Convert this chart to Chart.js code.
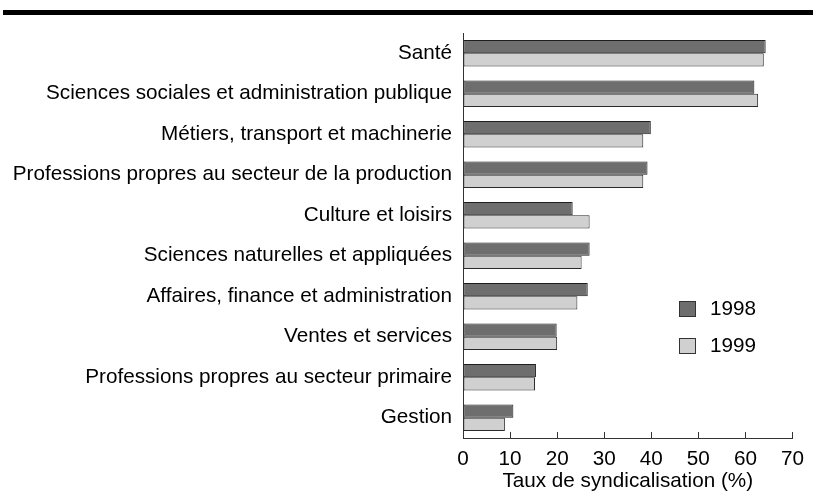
<!DOCTYPE html>
<html>
<head>
<meta charset="utf-8">
<script src="https://cdn.jsdelivr.net/npm/chart.js@4.4.1/dist/chart.umd.min.js"></script>
<style>
  html, body { margin: 0; padding: 0; background: #ffffff; }
  #wrap { position: relative; width: 813px; height: 500px; }
</style>
</head>
<body>
<div id="wrap"><canvas id="c" width="813" height="500"></canvas></div>
<script>
const categories = [
  "Santé",
  "Sciences sociales et administration publique",
  "Métiers, transport et machinerie",
  "Professions propres au secteur de la production",
  "Culture et loisirs",
  "Sciences naturelles et appliquées",
  "Affaires, finance et administration",
  "Ventes et services",
  "Professions propres au secteur primaire",
  "Gestion"
];
const values1998 = [64.3, 61.9, 39.9, 39.2, 23.3, 26.9, 26.5, 19.9, 15.5, 10.7];
const values1999 = [63.9, 62.7, 38.3, 38.3, 26.9, 25.2, 24.3, 20.0, 15.3, 8.9];
const seriesLabels = ["1998", "1999"];
const xTicks = [0, 10, 20, 30, 40, 50, 60, 70];
const axisTitle = "Taux de syndicalisation (%)";

const FONT = "'Liberation Sans', Arial, sans-serif";
const FSIZE = 20.7;

const decorPlugin = {
  id: 'decor',
  beforeDraw(chart) {
    const ctx = chart.ctx;
    ctx.save();
    ctx.fillStyle = '#ffffff';
    ctx.fillRect(0, 0, chart.width, chart.height);
    ctx.fillStyle = '#000000';
    ctx.fillRect(3, 10, 810, 5);
    ctx.restore();
  },
  afterDraw(chart) {
    const ctx = chart.ctx;
    const xs = chart.scales.x;
    const area = chart.chartArea;
    ctx.save();
    ctx.strokeStyle = '#333333';
    ctx.lineWidth = 1;
    xs.ticks.forEach(t => {
      if (t.value === 0) return;
      const px = Math.round(xs.getPixelForValue(t.value)) + 0.5;
      ctx.beginPath();
      ctx.moveTo(px, area.bottom);
      ctx.lineTo(px, area.bottom - 6);
      ctx.stroke();
    });
    const lx = 679, ly = [301, 338];
    ctx.font = FSIZE + 'px ' + FONT;
    ctx.textBaseline = 'middle';
    ctx.textAlign = 'left';
    chart.data.datasets.forEach((ds, i) => {
      ctx.fillStyle = ds.backgroundColor;
      ctx.fillRect(lx, ly[i], 17, 16);
      ctx.strokeStyle = '#333333';
      ctx.strokeRect(lx + 0.5, ly[i] + 0.5, 16, 15);
      ctx.fillStyle = '#000000';
      ctx.fillText(ds.label, 710, ly[i] + 8);
    });
    ctx.restore();
  }
};

new Chart(document.getElementById('c'), {
  type: 'bar',
  data: {
    labels: categories,
    datasets: [
      { label: seriesLabels[0], data: values1998, backgroundColor: '#6e6e6e', borderColor: '#1e1e1e', borderWidth: 1, borderSkipped: false },
      { label: seriesLabels[1], data: values1999, backgroundColor: '#d0d0d0', borderColor: '#2a2a2a', borderWidth: 1, borderSkipped: false }
    ]
  },
  options: {
    indexAxis: 'y',
    responsive: false,
    animation: false,
    devicePixelRatio: 1,
    layout: { padding: { top: 33, right: 20, left: 0, bottom: 6 } },
    datasets: { bar: { categoryPercentage: 0.66, barPercentage: 1.0 } },
    plugins: {
      legend: { display: false },
      tooltip: { enabled: false }
    },
    scales: {
      x: {
        min: 0, max: 70,
        afterBuildTicks(scale) { scale.ticks = xTicks.map(v => ({ value: v })); },
        afterFit(scale) { scale.height = 56; },
        grid: { drawOnChartArea: false, drawTicks: false },
        border: { display: true, color: '#333333', width: 1 },
        ticks: { color: '#000000', padding: 9, font: { family: FONT, size: FSIZE }, maxRotation: 0 },
        title: { display: true, text: axisTitle, color: '#000000', padding: { top: 0, bottom: 0 }, font: { family: FONT, size: FSIZE } }
      },
      y: {
        afterFit(scale) { scale.width = 463; },
        grid: { drawOnChartArea: false, drawTicks: false },
        border: { display: true, color: '#333333', width: 1 },
        ticks: { color: '#000000', padding: 11, font: { family: FONT, size: FSIZE }, autoSkip: false }
      }
    }
  },
  plugins: [decorPlugin]
});
</script>
</body>
</html>
